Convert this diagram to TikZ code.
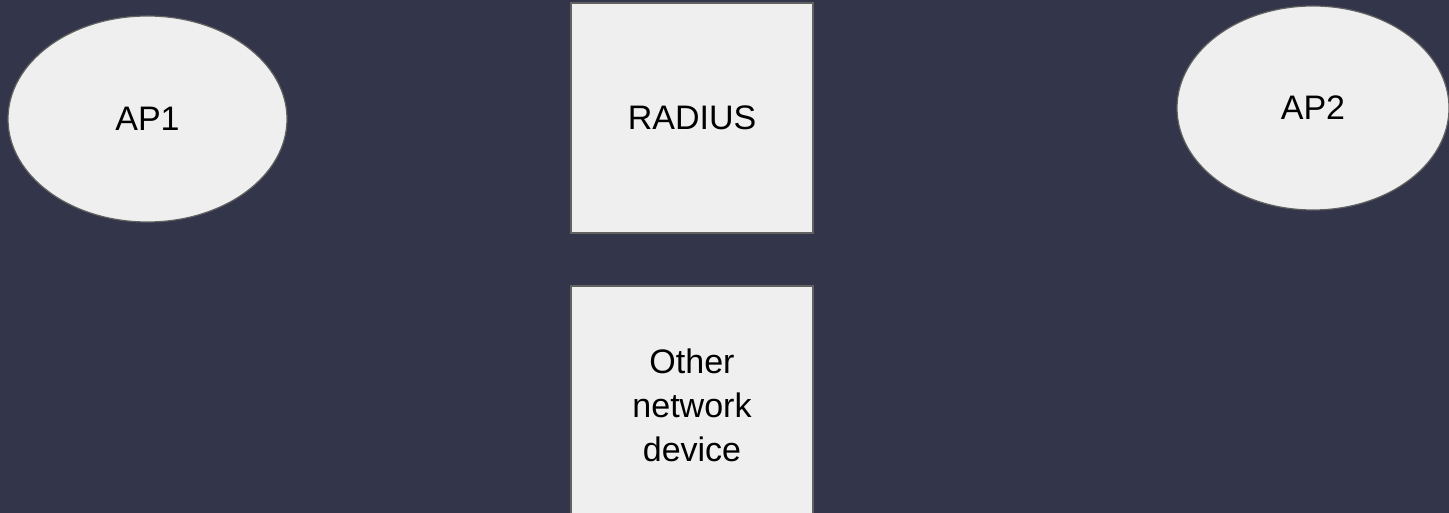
\documentclass[tikz,border=0pt]{standalone}
\usepackage{fontspec}
\setmainfont{Liberation Sans}
\usetikzlibrary{shapes.geometric}
\definecolor{bgc}{HTML}{33354A}
\definecolor{boxfill}{HTML}{EFEFEF}
\definecolor{boxline}{HTML}{616161}
\tikzset{
  apnode/.style={ellipse, draw=boxline, fill=boxfill, line width=1.2pt, inner sep=0pt, font=\fontsize{34}{40}\selectfont, text=black},
  devbox/.style={rectangle, draw=boxline, fill=boxfill, line width=1.5pt, inner sep=0pt, font=\fontsize{34}{44}\selectfont, text=black, align=center}
}
\begin{document}
\begin{tikzpicture}[x=1pt,y=1pt]
\fill[bgc] (0,0) rectangle (1449,513);
\useasboundingbox (0,0) rectangle (1449,513);
\node[apnode, minimum width=279pt, minimum height=206pt] (ap1) at (147.5,394) {AP1};
\node[apnode, minimum width=272pt, minimum height=204pt] (ap2) at (1313,405) {AP2};
\node[devbox, minimum width=242pt, minimum height=230pt] (radius) at (692,395) {RADIUS};
\node[devbox, minimum width=242pt, minimum height=240pt] (other) at (692,107) {};
\node[text=black, align=center, font=\fontsize{34}{44}\selectfont] (othert) at (692,108) {Other\\network\\device};
\end{tikzpicture}
\end{document}
